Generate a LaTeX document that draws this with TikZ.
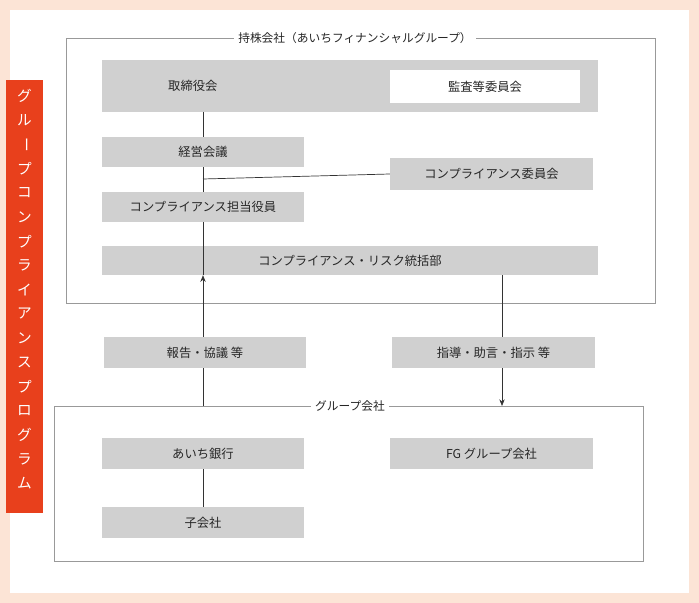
\documentclass[tikz,border=0pt]{standalone}
\usepackage{fontspec}
\setmainfont{Noto Sans CJK JP}
\usetikzlibrary{arrows.meta}
\definecolor{peach}{HTML}{FCE4D6}
\definecolor{barred}{HTML}{E8401C}
\definecolor{boxgray}{HTML}{D0D0D0}
\definecolor{framegray}{HTML}{999999}
\tikzset{
  box/.style={fill=boxgray, inner sep=0pt, font=\fontsize{10.5}{12}\selectfont, text=black!85},
  frame/.style={draw=framegray, line width=0.8pt},
  link/.style={draw=black!80, line width=0.6pt},
  title/.style={fill=white, inner xsep=4pt, font=\fontsize{10}{12}\selectfont, text=black!85}
}
\begin{document}
\begin{tikzpicture}[x=0.3mm, y=-0.3mm]
  % background
  \fill[peach] (0,0) rectangle (699,603);
  \fill[white] (10,10) rectangle (689,593);
  \useasboundingbox (0,0) rectangle (699,603);

  % program bar
  \fill[barred] (6,80) rectangle (43,513);
  \foreach \ch [count=\i] in {グ,ル,ー,プ,コ,ン,プ,ラ,イ,ア,ン,ス,プ,ロ,グ,ラ,ム}{
    \ifnum\i=3
      \node[text=white, font=\fontsize{12.5}{14}\selectfont, rotate=-90] at (24.5,{96+(\i-1)*24.2}) {\ch};
    \else
      \node[text=white, font=\fontsize{12.5}{14}\selectfont] at (24.5,{96+(\i-1)*24.2}) {\ch};
    \fi
  }

  % holding company
  \draw[frame] (66,38) rectangle (655,303);
  \node[title] (hdtitle) at (355,38) {持株会社（あいちフィナンシャルグループ）};

  \node[box, minimum width=148.8mm, minimum height=15.6mm] (board) at (350,86) {};
  \node[box, anchor=west, fill=none] (boardlbl) at (168,86) {取締役会};
  \node[box, fill=white, minimum width=57mm, minimum height=9.9mm] (audit) at (485,86.5) {監査等委員会};

  \node[box, minimum width=60.6mm, minimum height=9mm] (mgmt) at (203,152) {経営会議};
  \node[box, minimum width=60.9mm, minimum height=9.6mm] (ccomm) at (491.5,174) {コンプライアンス委員会};
  \node[box, minimum width=60.6mm, minimum height=9mm] (cofficer) at (203,207) {コンプライアンス担当役員};
  \node[box, minimum width=148.8mm, minimum height=8.7mm] (risk) at (350,260.5) {コンプライアンス・リスク統括部};

  \coordinate (junc) at (203,179);
  \draw[link] (203,112) -- (mgmt.north);
  \draw[link] (mgmt.south) -- (cofficer.north);
  \draw[link] (junc) -- (ccomm.west);
  \draw[link] (cofficer.south) -- (risk.south -| cofficer.south);

  % group companies
  \draw[frame] (54,406) rectangle (643,561);
  \node[title] (grtitle) at (350,406) {グループ会社};

  \coordinate (upfrom) at (203,406);
  \coordinate (downto) at (502,406);
  \draw[link, -{Stealth[length=2mm, width=1.6mm]}] (upfrom) -- (risk.south -| upfrom);
  \draw[link, -{Stealth[length=2mm, width=1.6mm]}] (risk.south -| downto) -- (downto);

  \node[box, minimum width=60.6mm, minimum height=9.3mm] (report) at (205,352.5) {報告・協議 等};
  \node[box, minimum width=60.9mm, minimum height=9.3mm] (guide) at (493.5,352.5) {指導・助言・指示 等};

  \node[box, minimum width=60.6mm, minimum height=9.3mm] (bank) at (203,453.5) {あいち銀行};
  \node[box, minimum width=60.9mm, minimum height=9.3mm] (fg) at (491.5,453.5) {FG グループ会社};
  \node[box, minimum width=60.6mm, minimum height=9.3mm] (sub) at (203,522.5) {子会社};
  \draw[link] (bank.south) -- (sub.north);
\end{tikzpicture}
\end{document}
